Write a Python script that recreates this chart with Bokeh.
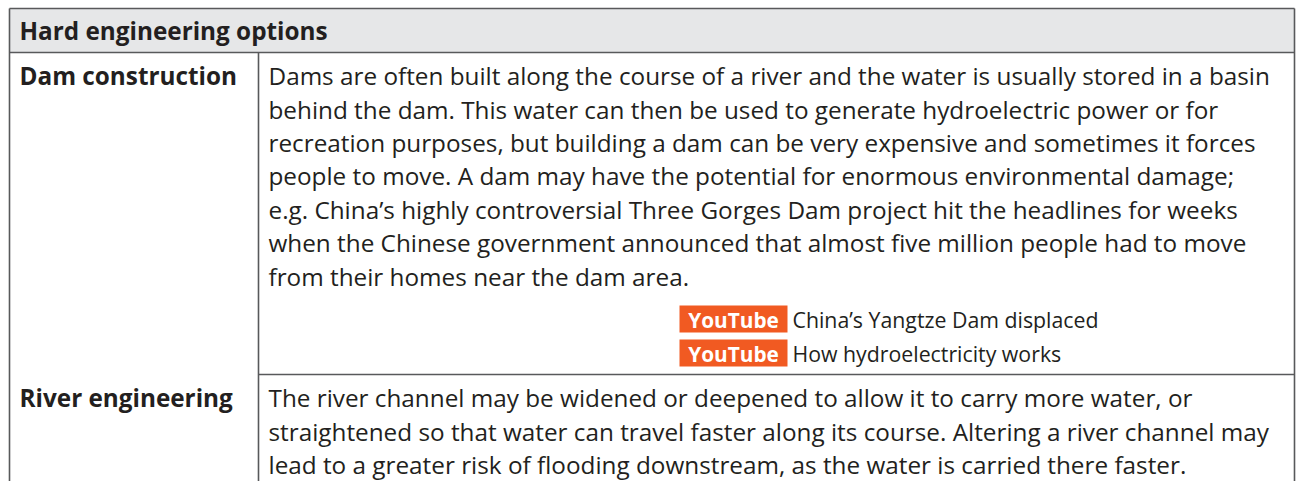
from bokeh.plotting import figure
from bokeh.models import Range1d
from bokeh.core.properties import value
from bokeh.embed import file_html
from bokeh.resources import INLINE

# ---- content ----
header = "Hard engineering options"
row_labels = ["Dam construction", "River engineering"]
dam_lines = [
    "Dams are often built along the course of a river and the water is usually stored in a basin",
    "behind the dam. This water can then be used to generate hydroelectric power or for",
    "recreation purposes, but building a dam can be very expensive and sometimes it forces",
    "people to move. A dam may have the potential for enormous environmental damage;",
    "e.g. China\u2019s highly controversial Three Gorges Dam project hit the headlines for weeks",
    "when the Chinese government announced that almost five million people had to move",
    "from their homes near the dam area.",
]
river_lines = [
    "The river channel may be widened or deepened to allow it to carry more water, or",
    "straightened so that water can travel faster along its course. Altering a river channel may",
    "lead to a greater risk of flooding downstream, as the water is carried there faster.",
]
link_badges = ["YouTube", "YouTube"]
link_titles = ["China\u2019s Yangtze Dam displaced", "How hydroelectricity works"]

# ---- layout ----
W, H = 1296, 481
OX, OY = 0, 0
L, R, T = 9, 1294, 8
HB = 52          # header bottom
COL = 258        # column divider
R2 = 374         # divider between row 2 and row 3
BOT = 520
LINE = 33.4
FONT = value("Open Sans")
TXT = "#231f20"
BORDER = "#58595b"
FS = 24.3
SFS = 21.3
BFS = 20.8
ADJ = 0.38       # empirical shift of the alphabetic baseline, in em


def base(y, fs):
    return y - ADJ * fs


p = figure(width=W, height=H, x_range=Range1d(OX, OX + W), y_range=Range1d(OY + H, OY),
           output_backend="svg", toolbar_location=None, min_border=0,
           x_axis_location=None, y_axis_location=None)
p.grid.visible = False
p.outline_line_color = None
p.background_fill_color = "white"
p.border_fill_color = "white"

# header band
p.quad(left=[L], right=[R], top=[T], bottom=[HB], fill_color="#e6e7e8", line_color=None)

# borders
p.segment(x0=[L, R, L, L, COL, COL], y0=[T, T, T, HB, HB, R2],
          x1=[L, R, R, R, COL, R], y1=[BOT, BOT, T, HB, BOT, R2],
          line_color=BORDER, line_width=1.6)

# header text
p.text(x=[19], y=[base(39, FS)], text=[header], text_font=FONT, text_font_style="bold",
       text_font_size=f"{FS}px", text_color=TXT, text_baseline="alphabetic")

# row labels
row_tops = [HB, R2]
p.text(x=[19, 19], y=[base(t + 32.5, FS) for t in row_tops], text=row_labels, text_font=FONT,
       text_font_style="bold", text_font_size=f"{FS}px", text_color=TXT,
       text_baseline="alphabetic")

# body text
bx = COL + 10
p.text(x=[bx] * len(dam_lines), y=[base(HB + 32.5 + LINE * i, FS) for i in range(len(dam_lines))],
       text=dam_lines, text_font=FONT, text_font_size=f"{FS}px", text_color=TXT,
       text_baseline="alphabetic")
p.text(x=[bx] * len(river_lines), y=[base(R2 + 32.5 + LINE * i, FS) for i in range(len(river_lines))],
       text=river_lines, text_font=FONT, text_font_size=f"{FS}px", text_color=TXT,
       text_baseline="alphabetic")

# links
badge_top = [305 + 34 * i for i in range(len(link_badges))]
p.quad(left=[679] * len(link_badges), right=[787] * len(link_badges),
       top=badge_top, bottom=[t + 27 for t in badge_top], fill_color="#f15a22", line_color=None)
p.text(x=[733] * len(link_badges), y=[base(t + 22, BFS) for t in badge_top], text=link_badges,
       text_font=FONT, text_font_style="bold", text_font_size=f"{BFS}px", text_color="white",
       text_align="center", text_baseline="alphabetic")
p.text(x=[792] * len(link_titles), y=[base(t + 22, SFS) for t in badge_top], text=link_titles,
       text_font=FONT, text_font_size=f"{SFS}px", text_color=TXT, text_baseline="alphabetic")

open("out.html", "w").write(file_html(p, INLINE))
